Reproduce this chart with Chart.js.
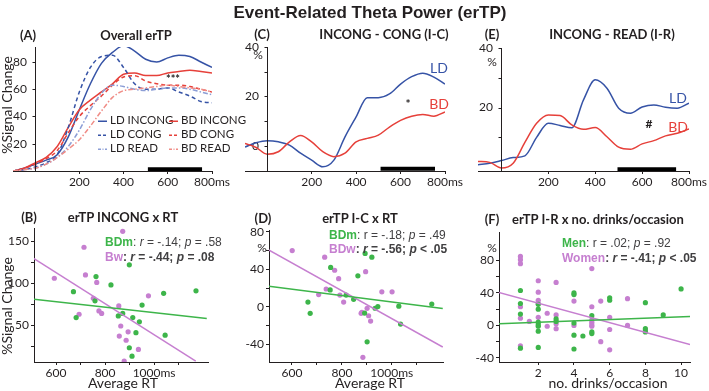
<!DOCTYPE html>
<html>
<head>
<meta charset="utf-8">
<script src="https://cdn.jsdelivr.net/npm/chart.js@4.4.0/dist/chart.umd.min.js"></script>
<style>
  body { margin: 0; background: #fff; }
  #page { position: relative; width: 709px; height: 391px; overflow: hidden; font-family: Lato, "Open Sans", sans-serif; color: #231f20; }
  canvas { position: absolute; }
  .t { position: absolute; white-space: nowrap; line-height: 1; }
  .c { transform: translate(-50%, -50%); }
  .l { transform: translateY(-50%); }
  .stat { font-family: "Liberation Sans", Arial, sans-serif; font-size: 12px; color: #414042; }
</style>
</head>
<body>
<div id="page"></div>
<script>
// --- datos ---
const tiempo = [-100, -50, 0, 50, 100, 150, 200, 250, 300, 350, 400, 450, 500, 550, 600, 650, 700, 750, 800];

// (A) erTP global, % de cambio
const ldIncong = [0, 2, 5, 8, 12, 25, 45, 64, 79, 87, 92, 88, 82, 80, 83, 85, 84, 80, 76];
const ldCong   = [0, 1, 3, 6, 12, 32, 58, 76, 84, 85, 76, 64, 60, 60, 61, 58, 55, 51, 50];
const ldRead   = [0, 1, 2, 5, 10, 18, 30, 45, 57, 63, 62, 60, 59, 60, 61, 61, 60, 58, 56];
const bdIncong = [0, 2, 6, 10, 18, 32, 45, 52, 58, 64, 71, 72, 70, 70, 72, 73, 74, 73, 72];
const bdCong   = [0, 2, 5, 9, 15, 28, 40, 48, 55, 63, 69, 70, 66, 64, 63, 63, 62, 60, 58];
const bdRead   = [0, 1, 2, 5, 10, 16, 23, 33, 44, 54, 59, 60, 61, 62, 63, 62, 61, 60, 58];

// (C) INCONG - CONG
const ldIC = [-0.5, 1.2, 2, 1.6, 0.3, -3, -5.8, -8.5, -5.8, 3.6, 11.7, 19.5, 19.5, 21, 25, 28, 29.4, 27.8, 25];
const bdIC = [1, -0.7, -3.4, -2.4, 1.6, 4.2, 1.6, -2.4, -4.4, -3, 1.6, 3, 4.3, 7.6, 10.3, 12, 12.7, 12, 13.7];

// (E) INCONG - READ
const ldIR = [0.8, 1.3, 2.2, 3.2, 3.8, 10, 14.7, 14, 13.2, 22.6, 29.3, 26.5, 19.8, 18.1, 20.2, 20.9, 20.1, 19.8, 21.5];
const bdIR = [1.9, 1.6, -0.3, 1.3, 8.3, 14.7, 17.5, 17.3, 14.2, 12.7, 13.3, 10.2, 6.7, 6, 7.8, 8.9, 10.5, 11.4, 12.8];

// ventanas significativas (ms) y su nivel en y
const ventanaAC = [510, 755];
const ventanaE  = [495, 745];
const nivelA = 1.3, nivelC = -9.3, nivelE = -0.75;

// (B) erTP INCONG x RT
const bMenRT  = [899, 763, 824, 671, 759, 682, 854, 872, 913, 940, 951, 926, 899, 910, 1039, 1045, 1171];
const bMenVal = [122, 108, 98, 90, 79, 59, 61, 64, 59, 54, 74, 41, 23, 13, 88, 38, 91];
const bWomRT  = [872, 714, 593, 720, 766, 752, 694, 775, 786, 856, 977, 864, 858, 894, 886, 936, 878];
const bWomVal = [162, 143, 106, 110, 101, 82, 63, 67, 64, 73, 85, 49, 37, 42, 32, 21, 7];
const bFitX = [507, 1215], bFitMen = [81, 58];
const bFitXw = [507, 1170], bFitWom = [130, 7];

// (D) erTP I-C x RT
const dMenRT  = [893, 920, 755, 864, 753, 664, 673, 817, 847, 891, 933, 944, 1028, 1035, 901, 1160];
const dMenVal = [57, 53, 42, 33, 18, 5, -7, 12.5, 8, -6.7, -1.6, 0.2, 0.6, -18.5, -37.5, 2.9];
const dWomRT  = [601, 731, 771, 787, 737, 707, 807, 792, 895, 960, 1001, 877, 880, 901, 907, 915, 884];
const dWomVal = [60, 53, 39, 30, 19, 13, 5, 12.5, 37.5, 16, 16, -7, -6, -1.7, -9.6, -15.3, -54];
const dFitX = [504, 1204], dFitMen = [22, -1.8], dFitWom = [61, -43];

// (F) erTP I-R x nº bebidas/ocasión
const fMenN   = [1, 1, 1, 1, 2, 2, 2, 2, 2, 2, 2, 3, 3, 4, 4, 4, 4, 4, 4.5, 5, 5, 5, 6, 6, 8, 8, 8, 9, 10];
const fMenVal = [43, 27, 14, -28, 26, 20, 4, 1, -1, -7, -27, 8, 5, 40, 38, 3, -12, -29, -13, 12, -8, -10, 34, 31, 28, -4, -8, 13, 45];
const fWomN   = [1, 1, 1, 1, 1, 1, 1.5, 2, 2, 2, 2, 2, 2.5, 2.5, 3, 3, 3, 3, 4, 4, 5, 5, 5, 5, 5, 5, 5.5, 5.5, 6, 6, 6, 7, 7, 8];
const fWomVal = [85, 81, 76, 23, 9, -25, 5, 55, 41, 31, 27, 10, 15, -1, 53, 13, 2, -4, 30, 0, 70, 23, 7, 4, 1, -1, 30, -20, 10, -5, -30, 33, 0, -6];
const fFitX = [-0.28, 10.5], fFitMen = [2, 11], fFitWom = [41, -23.4];

// --- estilos ---
const INK = '#231f20';
const AZUL = '#3653a6', AZUL_CLARO = '#8c9ed6';
const ROJO = '#e6403a', ROJO_CLARO = '#f08c86';
const VERDE = '#3db54a', VIOLETA = '#c67fd0';

Chart.defaults.font.family = 'Lato, "Open Sans", sans-serif';
Chart.defaults.font.size = 12;
Chart.defaults.color = INK;
Chart.defaults.animation = false;

const page = document.getElementById('page');

function texto(x, y, html, cls, estilo) {
    const d = document.createElement('div');
    d.className = 't ' + cls;
    d.style.left = x + 'px';
    d.style.top = y + 'px';
    if (estilo) d.style.cssText += estilo;
    d.innerHTML = html;
    page.appendChild(d);
}

// crea un canvas cuya área de gráfico cae en area {l,t,r,b}
function crearCanvas(area, pad) {
    const c = document.createElement('canvas');
    const w = area.r - area.l + pad.l + pad.r;
    const h = area.b - area.t + pad.t + pad.b;
    c.width = w; c.height = h;
    c.style.width = w + 'px'; c.style.height = h + 'px';
    c.style.left = (area.l - pad.l) + 'px';
    c.style.top = (area.t - pad.t) + 'px';
    page.appendChild(c);
    return c;
}

// en los paneles de tiempo el eje y cruza en t = 0 ms
const ejeEnCero = {
    id: 'ejeEnCero',
    afterLayout(chart) {
        const y = chart.scales.y;
        const x0 = Math.round(chart.scales.x.getPixelForValue(0));
        y.left = x0 - 30;
        y.right = x0;
        y.width = 30;
    },
    afterDraw(chart) {
        const { ctx, chartArea } = chart;
        const y = chart.scales.y;
        const x0 = Math.round(chart.scales.x.getPixelForValue(0)) + 0.5;
        ctx.save();
        ctx.strokeStyle = INK;
        ctx.lineWidth = 1;
        ctx.beginPath();
        ctx.moveTo(x0, chartArea.top);
        ctx.lineTo(x0, chartArea.bottom);
        y.ticks.forEach(t => {
            const py = Math.round(y.getPixelForValue(t.value)) + 0.5;
            ctx.moveTo(x0 - 3, py);
            ctx.lineTo(x0, py);
        });
        ctx.stroke();
        ctx.restore();
    }
};

function ejeX(min, max, valores, etiqueta, alto) {
    return {
        type: 'linear', position: 'bottom', min, max,
        afterBuildTicks: s => { s.ticks = valores.map(v => ({ value: v })); },
        afterFit: s => { s.height = alto; s.paddingLeft = 0; s.paddingRight = 0; },
        grid: { drawOnChartArea: false, tickLength: 3, color: INK, lineWidth: 1 },
        border: { display: true, color: INK, width: 1 },
        ticks: { callback: etiqueta, padding: 1, maxRotation: 0, autoSkip: false, color: INK, font: { size: 12 } }
    };
}

function ejeY(min, max, valores, etiqueta, ancho, propio) {
    return {
        type: 'linear', position: 'left', min, max,
        afterBuildTicks: s => { s.ticks = valores.map(v => ({ value: v })); },
        afterFit: s => { s.width = ancho; s.paddingTop = 0; s.paddingBottom = 0; },
        grid: { display: !propio, drawOnChartArea: false, tickLength: 3, color: INK, lineWidth: 1 },
        border: { display: !propio, color: INK, width: 1 },
        ticks: { callback: etiqueta, padding: propio ? 5 : 2, autoSkip: false, color: INK, font: { size: 12 } }
    };
}

function curva(valores, color, dash) {
    return {
        data: tiempo.map((t, i) => ({ x: t, y: valores[i] })),
        borderColor: color, borderWidth: 1.5, borderDash: dash || [],
        pointRadius: 0, cubicInterpolationMode: 'monotone', fill: false
    };
}

function barra(ventana, nivel) {
    return {
        data: ventana.map(x => ({ x, y: nivel })),
        borderColor: '#000', borderWidth: 4, borderCapStyle: 'butt', pointRadius: 0
    };
}

function puntos(xs, ys, color) {
    return {
        data: xs.map((x, i) => ({ x, y: ys[i] })),
        showLine: false, pointRadius: 2.6, pointBackgroundColor: color, pointBorderWidth: 0, pointHoverRadius: 2.6
    };
}

function recta(xs, ys, color) {
    return {
        data: xs.map((x, i) => ({ x, y: ys[i] })),
        borderColor: color, borderWidth: 1.5, pointRadius: 0
    };
}

function grafico(canvas, datasets, escalas, pad, plugins) {
    return new Chart(canvas, {
        type: 'line',
        data: { datasets },
        options: {
            responsive: false,
            layout: { padding: pad },
            plugins: { legend: { display: false }, tooltip: { enabled: false } },
            scales: escalas
        },
        plugins: plugins || []
    });
}

const etiquetaMs = v => v === 800 ? '800ms' : String(v);
const etiquetaRT = v => v === 1000 ? '1000ms' : (v === 600 || v === 800 ? String(v) : '');
const tiempos = [200, 400, 600, 800];

// --- (A) ---
(function () {
    const area = { l: 13, t: 47, r: 212, b: 171 };
    const pad = { l: 13, t: 10, r: 28, b: 24 };
    grafico(crearCanvas(area, pad), [
        curva(bdRead, ROJO_CLARO, [5, 2, 1.5, 2]),
        curva(ldRead, AZUL_CLARO, [5, 2, 1.5, 2]),
        curva(bdCong, ROJO, [4, 3]),
        curva(ldCong, AZUL, [4, 3]),
        curva(bdIncong, ROJO),
        curva(ldIncong, AZUL),
        barra(ventanaAC, nivelA)
    ], {
        x: ejeX(-100, 800, tiempos, etiquetaMs, pad.b),
        y: ejeY(0, 91, [20, 40, 60, 80], v => String(v), 0, true)
    }, { left: pad.l, top: pad.t, right: pad.r, bottom: 0 }, [ejeEnCero]);
})();

// --- (C) ---
(function () {
    const area = { l: 245, t: 47, r: 445, b: 171 };
    const pad = { l: 20, t: 10, r: 30, b: 24 };
    grafico(crearCanvas(area, pad), [
        curva(bdIC, ROJO),
        curva(ldIC, AZUL),
        barra(ventanaAC, nivelC)
    ], {
        x: ejeX(-100, 800, tiempos, etiquetaMs, pad.b),
        y: ejeY(-10.2, 40, [0, 10, 20, 30, 40], v => v % 20 === 0 ? String(v) : '', 0, true)
    }, { left: pad.l, top: pad.t, right: pad.r, bottom: 0 }, [ejeEnCero]);
})();

// --- (E) ---
(function () {
    const area = { l: 478, t: 48, r: 689, b: 171 };
    const pad = { l: 22, t: 10, r: 20, b: 24 };
    grafico(crearCanvas(area, pad), [
        curva(bdIR, ROJO),
        curva(ldIR, AZUL),
        barra(ventanaE, nivelE)
    ], {
        x: ejeX(-100, 800, tiempos, etiquetaMs, pad.b),
        y: ejeY(-1.3, 40, [10, 20, 30, 40], v => v % 20 === 0 ? String(v) : '', 0, true)
    }, { left: pad.l, top: pad.t, right: pad.r, bottom: 0 }, [ejeEnCero]);
})();

// --- (B) ---
(function () {
    const area = { l: 34, t: 228, r: 208, b: 362 };
    const pad = { l: 30, t: 6, r: 24, b: 16 };
    grafico(crearCanvas(area, pad), [
        recta(bFitX, bFitMen, VERDE),
        recta(bFitXw, bFitWom, VIOLETA),
        puntos(bMenRT, bMenVal, VERDE),
        puntos(bWomRT, bWomVal, VIOLETA)
    ], {
        x: ejeX(510, 1220, [600, 700, 800, 900, 1000, 1100], etiquetaRT, pad.b),
        y: ejeY(6, 166, [25, 50, 75, 100, 125, 150], v => v % 50 === 0 ? String(v) : '', pad.l)
    }, { left: 0, top: pad.t, right: pad.r, bottom: 0 });
})();

// --- (D) ---
(function () {
    const area = { l: 269, t: 230, r: 443, b: 362 };
    const pad = { l: 28, t: 6, r: 26, b: 16 };
    grafico(crearCanvas(area, pad), [
        recta(dFitX, dFitMen, VERDE),
        recta(dFitX, dFitWom, VIOLETA),
        puntos(dMenRT, dMenVal, VERDE),
        puntos(dWomRT, dWomVal, VIOLETA)
    ], {
        x: ejeX(508, 1205, [600, 700, 800, 900, 1000, 1100], etiquetaRT, pad.b),
        y: ejeY(-59, 82, [-40, -20, 0, 20, 40, 60, 80], v => v % 40 === 0 ? String(v) : '', pad.l)
    }, { left: 0, top: pad.t, right: pad.r, bottom: 0 });
})();

// --- (F) ---
(function () {
    const area = { l: 499, t: 232, r: 690, b: 362 };
    const pad = { l: 28, t: 6, r: 19, b: 16 };
    grafico(crearCanvas(area, pad), [
        recta(fFitX, fFitMen, VERDE),
        recta(fFitX, fFitWom, VIOLETA),
        puntos(fMenN, fMenVal, VERDE),
        puntos(fWomN, fWomVal, VIOLETA)
    ], {
        x: ejeX(-0.2, 10.5, [2, 4, 6, 8, 10], v => String(v), pad.b),
        y: ejeY(-45, 115, [-40, -20, 0, 20, 40, 60, 80], v => v % 40 === 0 ? String(v) : '', pad.l)
    }, { left: 0, top: pad.t, right: pad.r, bottom: 0 });
})();

// --- textos ---
texto(370, 12, 'Event-Related Theta Power (erTP)', 'c', 'font-family:"Liberation Sans",Arial,sans-serif;font-weight:bold;font-size:17px;');

const tituloPanel = 'font-weight:bold;font-size:13px;';
texto(28, 35, '(A)', 'c', tituloPanel);
texto(136, 35, 'Overall erTP', 'c', tituloPanel);
texto(262, 34, '(C)', 'c', tituloPanel);
texto(384, 34, 'INCONG - CONG (I-C)', 'c', tituloPanel);
texto(492, 34, '(E)', 'c', tituloPanel);
texto(612, 34, 'INCONG - READ (I-R)', 'c', tituloPanel);
texto(29, 217, '(B)', 'c', tituloPanel);
texto(123, 217, 'erTP INCONG x RT', 'c', tituloPanel);
texto(263, 218, '(D)', 'c', tituloPanel);
texto(360, 218, 'erTP I-C x RT', 'c', tituloPanel);
texto(492, 219, '(F)', 'c', tituloPanel);
texto(598, 219, 'erTP I-R x no. drinks/occasion', 'c', tituloPanel);

const ejeTit = 'font-size:14px;';
texto(7, 105, '%Signal Change', 'c', ejeTit + 'transform:translate(-50%,-50%) rotate(-90deg);');
texto(7, 306, '%Signal Change', 'c', ejeTit + 'transform:translate(-50%,-50%) rotate(-90deg);');
texto(123, 383, 'Average RT', 'c', ejeTit);
texto(370, 383, 'Average RT', 'c', ejeTit);
texto(608, 383, 'no. drinks/occasion', 'c', ejeTit);

texto(258, 55, '%', 'c', 'font-size:12px;');
texto(492, 62, '%', 'c', 'font-size:12px;');
texto(262, 248, '%', 'c', 'font-size:12px;');
texto(492, 248, '%', 'c', 'font-size:12px;');

texto(439, 68, 'LD', 'c', 'font-size:14px;color:' + AZUL);
texto(439, 104, 'BD', 'c', 'font-size:14px;color:' + ROJO);
texto(678, 98, 'LD', 'c', 'font-size:14px;color:' + AZUL);
texto(678, 127, 'BD', 'c', 'font-size:14px;color:' + ROJO);
texto(173, 78, '***', 'c', 'font-size:11px;font-weight:bold;');
texto(408, 104, '*', 'c', 'font-size:12px;font-weight:bold;');
texto(649, 124, '#', 'c', 'font-size:12px;font-weight:bold;');

// leyenda del panel A
function muestra(color, dash) {
    return '<svg width="9" height="4" style="vertical-align:middle;margin-right:3px"><line x1="0" y1="2" x2="9" y2="2" stroke="' +
        color + '" stroke-width="1.5" stroke-dasharray="' + dash + '"/></svg>';
}
const filas = [
    [120, 'LD INCONG', AZUL, '', 'BD INCONG', ROJO, ''],
    [134, 'LD CONG', AZUL, '3,2', 'BD CONG', ROJO, '3,2'],
    [148, 'LD READ', AZUL_CLARO, '3,1.5,1,1.5', 'BD READ', ROJO_CLARO, '3,1.5,1,1.5']
];
filas.forEach(f => {
    texto(98, f[0], muestra(f[2], f[3]) + f[1], 'l', 'font-size:11.5px;');
    texto(169, f[0], muestra(f[5], f[6]) + f[4], 'l', 'font-size:11.5px;');
});

// estadísticos
const V = c => 'color:' + c;
texto(105, 242, '<b style="' + V(VERDE) + '">BDm</b>: <i>r</i> = -.14; <i>p</i> = .58', 'l stat');
texto(105, 257, '<b><span style="' + V(VIOLETA) + '">Bw</span>: <i>r</i> = -.44; <i>p</i> = .08</b>', 'l stat');
texto(329, 235, '<b style="' + V(VERDE) + '">BDm</b>: r = -.18; <i>p</i> = .49', 'l stat');
texto(329, 249, '<b><span style="' + V(VIOLETA) + '">BDw</span>: <i>r</i> = -.56; <i>p</i> &lt; .05</b>', 'l stat');
texto(562, 243, '<b style="' + V(VERDE) + '">Men</b>: r = .02; <i>p</i> = .92', 'l stat');
texto(562, 258, '<b><span style="' + V(VIOLETA) + '">Women</span>: <i>r</i> = -.41; <i>p</i> &lt; .05</b>', 'l stat');
</script>
</body>
</html>
